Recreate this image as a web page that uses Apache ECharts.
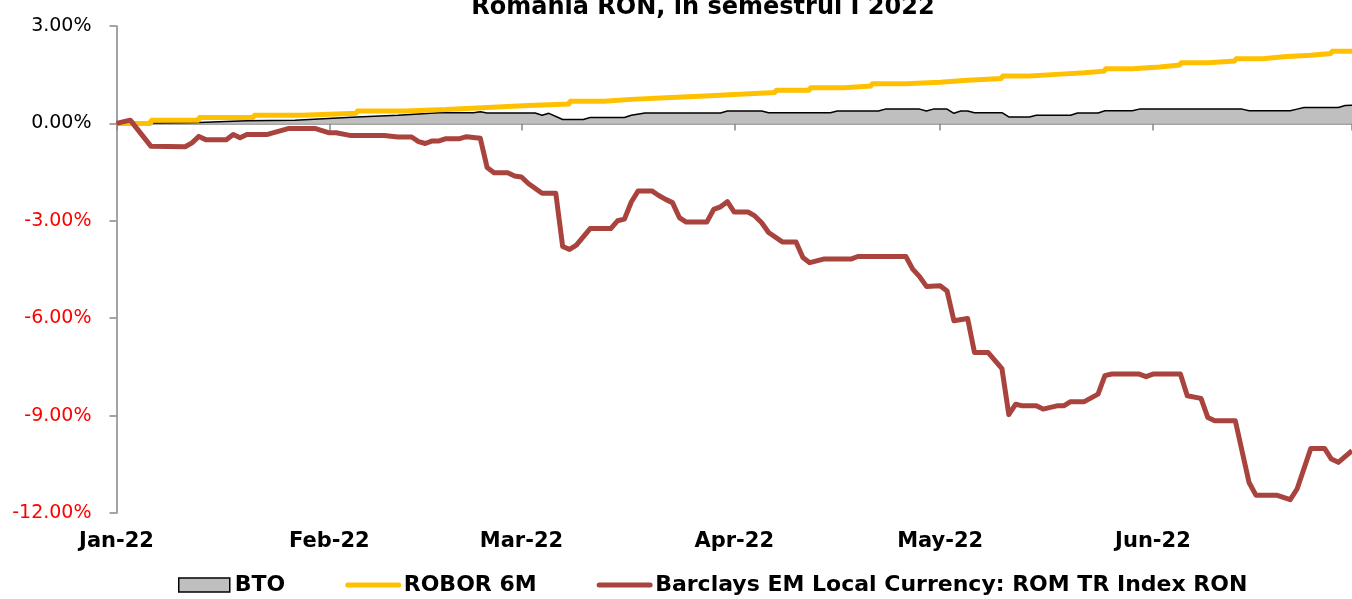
<!DOCTYPE html>
<html>
<head>
<meta charset="utf-8">
<title>BTO vs ROBOR 6M vs Barclays ROM</title>
<script src="https://cdn.jsdelivr.net/npm/echarts@6/dist/echarts.min.js"></script>
<style>
html, body { margin: 0; padding: 0; background: #fff; }
#main { width: 1352px; height: 599px; }
</style>
</head>
<body>
<div id="main"></div>
<script>
// series names
var seriesNames = ['BTO', 'ROBOR 6M', 'Barclays EM Local Currency: ROM TR Index RON'];

// y axis ticks (%)
var yTicks = [-12, -9, -6, -3, 0, 3];

// BTO (%)
var btoDates = ['2022-01-01','2022-01-13','2022-01-20','2022-01-27','2022-02-05','2022-02-11','2022-02-17','2022-02-22','2022-02-23','2022-02-24',
    '2022-03-03','2022-03-04','2022-03-05','2022-03-07','2022-03-10','2022-03-11','2022-03-16','2022-03-17','2022-03-19','2022-03-30',
    '2022-03-31','2022-04-05','2022-04-06','2022-04-15','2022-04-16','2022-04-22','2022-04-23','2022-04-28','2022-04-29','2022-04-30',
    '2022-05-02','2022-05-03','2022-05-04','2022-05-05','2022-05-06','2022-05-10','2022-05-11','2022-05-14','2022-05-15','2022-05-20',
    '2022-05-21','2022-05-24','2022-05-25','2022-05-29','2022-05-30','2022-06-14','2022-06-15','2022-06-21','2022-06-22','2022-06-23',
    '2022-06-28','2022-06-29','2022-06-30'];
var btoValues = [0, 0.03, 0.08, 0.10, 0.20, 0.25, 0.33, 0.33, 0.36, 0.32,
    0.32, 0.25, 0.31, 0.12, 0.12, 0.18, 0.18, 0.25, 0.32, 0.32,
    0.38, 0.38, 0.33, 0.33, 0.38, 0.38, 0.44, 0.44, 0.38, 0.44,
    0.44, 0.31, 0.38, 0.38, 0.33, 0.33, 0.20, 0.20, 0.25, 0.25,
    0.32, 0.32, 0.39, 0.39, 0.44, 0.44, 0.39, 0.39, 0.44, 0.49,
    0.49, 0.55, 0.56];

// ROBOR 6M (%), step changes
var roborDates = ['2022-01-01','2022-01-06','2022-01-13','2022-01-21','2022-01-28','2022-02-05','2022-02-12','2022-02-18','2022-02-24','2022-03-02',
    '2022-03-08','2022-03-13','2022-03-17','2022-03-22','2022-03-27','2022-04-01','2022-04-07','2022-04-12','2022-04-17','2022-04-21',
    '2022-04-26','2022-05-01','2022-05-05','2022-05-10','2022-05-14','2022-05-18','2022-05-22','2022-05-25','2022-05-29','2022-06-02',
    '2022-06-05','2022-06-09','2022-06-13','2022-06-17','2022-06-20','2022-06-24','2022-06-27','2022-06-30'];
var roborValues = [0, 0.10, 0.18, 0.25, 0.31, 0.38, 0.43, 0.49, 0.55, 0.60,
    0.68, 0.74, 0.79, 0.84, 0.89, 0.95, 1.02, 1.10, 1.15, 1.22,
    1.27, 1.33, 1.38, 1.46, 1.51, 1.56, 1.61, 1.68, 1.74, 1.80,
    1.87, 1.92, 1.99, 2.05, 2.10, 2.15, 2.22, 2.22];

// Barclays EM Local Currency: ROM TR Index RON (%)
var barclaysDates = ['2022-01-01','2022-01-03','2022-01-06','2022-01-11','2022-01-12','2022-01-13','2022-01-14','2022-01-17','2022-01-18','2022-01-19',
    '2022-01-20','2022-01-23','2022-01-26','2022-01-30','2022-02-01','2022-02-02','2022-02-04','2022-02-09','2022-02-11','2022-02-13',
    '2022-02-14','2022-02-15','2022-02-16','2022-02-17','2022-02-18','2022-02-20','2022-02-21','2022-02-23','2022-02-24','2022-02-25',
    '2022-02-27','2022-02-28','2022-03-01','2022-03-02','2022-03-04','2022-03-06','2022-03-07','2022-03-08','2022-03-09','2022-03-11',
    '2022-03-14','2022-03-15','2022-03-16','2022-03-17','2022-03-18','2022-03-20','2022-03-21','2022-03-22','2022-03-23','2022-03-24',
    '2022-03-25','2022-03-28','2022-03-29','2022-03-30','2022-03-31','2022-04-01','2022-04-03','2022-04-04','2022-04-05','2022-04-06',
    '2022-04-08','2022-04-10','2022-04-11','2022-04-12','2022-04-14','2022-04-18','2022-04-19','2022-04-26','2022-04-27','2022-04-28',
    '2022-04-29','2022-05-01','2022-05-02','2022-05-03','2022-05-05','2022-05-06','2022-05-08','2022-05-10','2022-05-11','2022-05-12',
    '2022-05-13','2022-05-15','2022-05-16','2022-05-18','2022-05-19','2022-05-20','2022-05-22','2022-05-24','2022-05-25','2022-05-26',
    '2022-05-30','2022-05-31','2022-06-01','2022-06-05','2022-06-06','2022-06-08','2022-06-09','2022-06-10','2022-06-13','2022-06-15',
    '2022-06-16','2022-06-19','2022-06-21','2022-06-22','2022-06-24','2022-06-26','2022-06-27','2022-06-28','2022-06-30'];
var barclaysValues = [0, 0.10, -0.70, -0.72, -0.60, -0.40, -0.50, -0.50, -0.34, -0.44,
    -0.34, -0.34, -0.16, -0.16, -0.29, -0.29, -0.37, -0.37, -0.42, -0.42,
    -0.56, -0.62, -0.54, -0.54, -0.47, -0.47, -0.41, -0.46, -1.36, -1.52,
    -1.52, -1.62, -1.65, -1.85, -2.15, -2.15, -3.79, -3.88, -3.75, -3.24,
    -3.24, -3.00, -2.95, -2.42, -2.08, -2.08, -2.22, -2.34, -2.44, -2.90,
    -3.04, -3.04, -2.65, -2.57, -2.41, -2.73, -2.73, -2.85, -3.06, -3.36,
    -3.65, -3.65, -4.13, -4.29, -4.18, -4.18, -4.10, -4.10, -4.49, -4.72,
    -5.02, -5.00, -5.16, -6.08, -6.01, -7.06, -7.06, -7.55, -8.97, -8.65,
    -8.70, -8.70, -8.80, -8.70, -8.70, -8.57, -8.57, -8.34, -7.77, -7.72,
    -7.72, -7.80, -7.72, -7.72, -8.39, -8.47, -9.06, -9.16, -9.16, -11.06,
    -11.45, -11.45, -11.59, -11.26, -10.01, -10.01, -10.34, -10.44, -10.08];

var xMin = '2022-01-01';
var xMax = '2022-06-30';

function zip(dates, values){
    return dates.map(function(d, i){ return [d, values[i]]; });
}

function drawChart(){
    var myChart = echarts.init(document.getElementById('main'));
    var font = 'DejaVu Sans';
    var axisGray = '#868686';
    var yellow = '#ffc000';
    var red = '#a9433e';
    var day = 24 * 3600 * 1000;
    var noSymbol = { color: 'rgba(0,0,0,0)', borderColor: 'rgba(0,0,0,0)', borderWidth: 0 };

    var option = {
        animation: false,
        backgroundColor: '#fff',
        textStyle: { fontFamily: font },
        title: {
            text: 'Romania RON, in semestrul I 2022',
            left: 703,
            textAlign: 'center',
            top: -4,
            padding: 0,
            textStyle: { fontFamily: font, fontSize: 24, fontWeight: 'bold', color: '#000' }
        },
        legend: {
            left: 178,
            top: 574,
            padding: 0,
            itemWidth: 51,
            itemHeight: 14,
            itemGap: 60,
            textStyle: { fontFamily: font, fontSize: 22, fontWeight: 'bold', color: '#000' },
            data: [
                { name: seriesNames[0], icon: 'rect', itemStyle: { color: '#bfbfbf', borderColor: '#000', borderWidth: 1.5 } },
                { name: seriesNames[1], itemStyle: noSymbol, lineStyle: { color: yellow, width: 5, cap: 'round' } },
                { name: seriesNames[2], itemStyle: noSymbol, lineStyle: { color: red, width: 5, cap: 'round' } }
            ]
        },
        grid: { left: 116.5, right: -2, top: 26, bottom: 86 },
        xAxis: [
            {
                // zero line with month ticks
                type: 'time',
                position: 'top',
                min: xMin,
                max: xMax,
                minInterval: 28 * day,
                maxInterval: 31 * day,
                axisLine: { onZero: true, lineStyle: { color: axisGray, width: 1.5 } },
                axisTick: { show: true, inside: true, length: 7, lineStyle: { color: axisGray, width: 1.5 } },
                axisLabel: { show: false },
                splitLine: { show: false }
            },
            {
                // month labels at the bottom
                type: 'time',
                position: 'bottom',
                min: xMin,
                max: xMax,
                minInterval: 28 * day,
                maxInterval: 31 * day,
                axisLine: { show: false, onZero: false },
                axisTick: { show: false },
                splitLine: { show: false },
                axisLabel: {
                    margin: 18,
                    fontFamily: font,
                    fontSize: 21,
                    fontWeight: 'bold',
                    color: '#000',
                    showMinLabel: true,
                    formatter: '{MMM}-{yy}'
                }
            }
        ],
        yAxis: {
            type: 'value',
            min: yTicks[0],
            max: yTicks[yTicks.length - 1],
            interval: 3,
            axisLine: { show: true, lineStyle: { color: axisGray, width: 1.5 } },
            axisTick: { show: true, length: 7, lineStyle: { color: axisGray, width: 1.5 } },
            splitLine: { show: false },
            axisLabel: {
                margin: 25,
                fontFamily: font,
                fontSize: 19,
                formatter: function(v){ return v.toFixed(2) + '%'; },
                color: function(v){ return Number(v) < 0 ? '#ff0000' : '#000'; }
            }
        },
        series: [
            {
                name: seriesNames[0],
                type: 'line',
                xAxisIndex: 0,
                data: zip(btoDates, btoValues),
                showSymbol: false,
                symbol: 'none',
                lineStyle: { color: '#000', width: 1.5 },
                itemStyle: { color: '#bfbfbf' },
                areaStyle: { color: '#bfbfbf', opacity: 1 }
            },
            {
                name: seriesNames[1],
                type: 'line',
                xAxisIndex: 0,
                step: 'end',
                data: zip(roborDates, roborValues),
                showSymbol: false,
                symbol: 'none',
                lineStyle: { color: yellow, width: 5 },
                itemStyle: { color: yellow }
            },
            {
                name: seriesNames[2],
                type: 'line',
                xAxisIndex: 0,
                data: zip(barclaysDates, barclaysValues),
                showSymbol: false,
                symbol: 'none',
                lineStyle: { color: red, width: 5, join: 'round' },
                itemStyle: { color: red }
            }
        ]
    };

    myChart.setOption(option);
}

drawChart();
</script>
</body>
</html>
